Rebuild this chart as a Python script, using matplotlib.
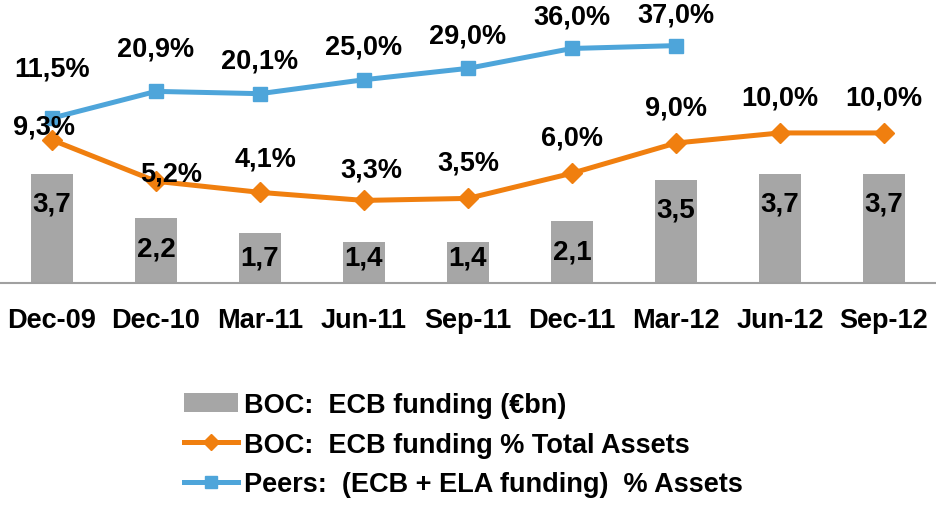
import matplotlib
matplotlib.use("Agg")
import matplotlib.pyplot as plt
from matplotlib.patches import Patch
from matplotlib.lines import Line2D

plt.rcParams['font.family'] = ['Liberation Sans', 'DejaVu Sans']
plt.rcParams['font.weight'] = 'bold'

# data
periods = ['Dec-09', 'Dec-10', 'Mar-11', 'Jun-11', 'Sep-11', 'Dec-11', 'Mar-12', 'Jun-12', 'Sep-12']
ecb_bn = [3.7, 2.2, 1.7, 1.4, 1.4, 2.1, 3.5, 3.7, 3.7]
ecb_pct = [9.3, 5.2, 4.1, 3.3, 3.5, 6.0, 9.0, 10.0, 10.0]
peers_pct = [11.5, 20.9, 20.1, 25.0, 29.0, 36.0, 37.0]

gray = '#A6A6A6'
orange = '#F07F0F'
blue = '#4EA5DA'

def fmt(v, d=1):
    return f'{v:.{d}f}'.replace('.', ',')

W, H = 936, 506
fig = plt.figure(figsize=(W / 100, H / 100), dpi=100)
base = 284
ax = fig.add_axes([0, 1 - base / H, 1, base / H])
ax2 = ax.twinx()
ax3 = ax.twinx()

x = list(range(len(periods)))
ax.bar(x, ecb_bn, width=0.4, color=gray, zorder=2)
ax.set_xlim(-0.5, len(periods) - 0.5)
px_per_unit = 29.5
ax.set_ylim(0, base / px_per_unit)

ax2.plot(x, ecb_pct, color=orange, lw=3.6, marker='D', ms=10, zorder=3)
ax2.set_ylim(-4.9, 23.3)

ax3.plot(x[:len(peers_pct)], peers_pct, color=blue, lw=3.6, marker='s', ms=9.5, zorder=3)
ax3.set_ylim(-46.5, 53.4)

for a in (ax, ax2, ax3):
    for s in a.spines.values():
        s.set_visible(False)
    a.set_yticks([])
    a.patch.set_visible(False)
ax.spines['bottom'].set_visible(True)
ax.spines['bottom'].set_color('#A0A0A0')
ax.spines['bottom'].set_linewidth(1.5)
ax.set_xticks(x)
ax.set_xticklabels(periods, fontsize=19.5, fontweight='bold')
ax.tick_params(axis='x', length=0, pad=17)

# bar labels: inside end, but not lower than a floor above the baseline
for i, v in enumerate(ecb_bn):
    h = v * px_per_unit
    up = max(h - 30, 26)
    ax3.annotate(fmt(v), xy=(i, 0), xycoords=ax.transData, xytext=(0, up),
                 textcoords='offset pixels', ha='center', va='center', fontsize=20, fontweight='bold')

o_off = [(-8, 13), (15, 8), (6, 34), (7, 31), (0, 36), (0, 36), (0, 36), (0, 35), (0, 35)]
for i, v in enumerate(ecb_pct):
    ax3.annotate(fmt(v) + '%', xy=(i, v), xycoords=ax2.transData, xytext=o_off[i],
                 textcoords='offset pixels', ha='center', va='center', fontsize=19.5, fontweight='bold')

p_off = [(0, 50), (0, 43), (0, 33), (0, 33), (0, 33), (0, 32), (0, 31)]
for i, v in enumerate(peers_pct):
    ax3.annotate(fmt(v) + '%', xy=(i, v), xycoords=ax3.transData, xytext=p_off[i],
                 textcoords='offset pixels', ha='center', va='center', fontsize=19.5, fontweight='bold')

handles = [
    Patch(facecolor=gray, edgecolor='none'),
    Line2D([], [], color=orange, lw=3.6, marker='D', ms=8),
    Line2D([], [], color=blue, lw=3.6, marker='s', ms=8),
]
labels = ['BOC:  ECB funding (\u20acbn)', 'BOC:  ECB funding % Total Assets',
          'Peers:  (ECB + ELA funding)  % Assets']
fig.legend(handles, labels, loc='upper left', bbox_to_anchor=(184 / W, 1 - 393 / H),
           frameon=False, handlelength=2.0, handletextpad=0.2,
           labelspacing=0.5, borderaxespad=0, borderpad=0,
           prop={'weight': 'bold', 'size': 19.5})

fig.savefig('out.png', dpi=100)
